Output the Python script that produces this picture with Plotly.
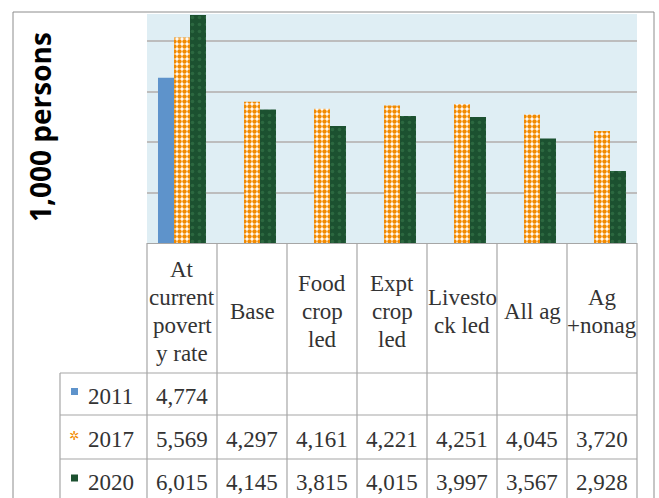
import plotly.graph_objects as go

# ---------------- data ----------------
categories = ["At current poverty rate", "Base", "Food crop led", "Expt crop led",
              "Livestock led", "All ag", "Ag +nonag"]
header_lines = [["At", "current", "povert", "y rate"], ["Base"], ["Food", "crop", "led"],
                ["Expt", "crop", "led"], ["Livesto", "ck led"], ["All ag"], ["Ag", "+nonag"]]
years = ["2011", "2017", "2020"]
v2011 = [4774, None, None, None, None, None, None]
v2017 = [5569, 4297, 4161, 4221, 4251, 4045, 3720]
v2020 = [6015, 4145, 3815, 4015, 3997, 3567, 2928]
series = [v2011, v2017, v2020]
y_title = "1,000 persons"

# ---------------- layout geometry (pixels) ----------------
W, H = 659, 498
L, R, T, B = 147, 637, 14, 243
def px(x):
    return (x - L) / (R - L)
def py(y):
    return (B - y) / (B - T)

C_BLUE = "#5E93CB"
C_ORANGE = "#F28A00"
C_GREEN = "#1C5130"
GRID = "#BDBDBD"
LINE = "#A6A6A6"
TXT = "#333333"
SERIF = "Liberation Serif, Times New Roman, serif"

idx = list(range(len(categories)))

fig = go.Figure()
fig.add_trace(go.Bar(x=idx, y=v2011, name=years[0], marker=dict(color=C_BLUE, line=dict(width=0))))
fig.add_trace(go.Bar(x=idx, y=v2017, name=years[1],
                     marker=dict(color="white", line=dict(width=0),
                                 pattern=dict(shape=".", fgcolor=C_ORANGE, bgcolor="white",
                                              size=5, solidity=0.62, fillmode="replace"))))
fig.add_trace(go.Bar(x=idx, y=v2020, name=years[2],
                     marker=dict(color=C_GREEN, line=dict(width=0),
                                 pattern=dict(shape=".", fgcolor="#2C6840", bgcolor=C_GREEN,
                                              size=7, solidity=0.2, fillmode="replace"))))

shapes = []
annotations = []

# outer chart border
shapes.append(dict(type="rect", xref="paper", yref="paper", x0=px(13), x1=px(654),
                   y0=py(12), y1=py(520), line=dict(color="#8C8C8C", width=1)))

# table geometry
header_bot = 373
row_tops = [373, 415, 459]
row_bots = [415, 459, 502]
left_col = 60

# vertical lines of table (category borders)
for i in range(len(categories) + 1):
    if i == 0 or i == len(categories):
        shapes.append(dict(type="line", xref="x domain", yref="paper", x0=i / len(categories),
                           x1=i / len(categories), y0=py(B), y1=py(row_bots[-1]),
                           line=dict(color=LINE, width=1.2)))
    else:
        shapes.append(dict(type="line", xref="x", yref="paper", x0=i - 0.5, x1=i - 0.5,
                           y0=py(B), y1=py(row_bots[-1]), line=dict(color=LINE, width=1.2)))
# left column border
shapes.append(dict(type="line", xref="paper", yref="paper", x0=px(left_col), x1=px(left_col),
                   y0=py(header_bot), y1=py(row_bots[-1]), line=dict(color=LINE, width=1.2)))
# horizontal row lines
for yy in row_tops + [row_bots[-1]]:
    shapes.append(dict(type="line", xref="paper", yref="paper", x0=px(left_col), x1=1,
                       y0=py(yy), y1=py(yy), line=dict(color=LINE, width=1.2)))

# header text
pitch = 28
hc = 311
for i, lines in enumerate(header_lines):
    n = len(lines)
    for k, t in enumerate(lines):
        yy = hc + (k - (n - 1) / 2) * pitch
        annotations.append(dict(x=i, y=py(yy), xref="x", yref="paper", text=t, showarrow=False,
                                xanchor="center", yanchor="middle",
                                font=dict(family=SERIF, size=23, color=TXT)))

# row values and legend keys
key_colors = [C_BLUE, C_ORANGE, C_GREEN]
for r, (yr, vals) in enumerate(zip(years, series)):
    yc = (row_tops[r] + row_bots[r]) / 2 + 2
    annotations.append(dict(x=px(86), y=py(yc), xref="paper", yref="paper", text=yr,
                            showarrow=False, xanchor="left", yanchor="middle",
                            font=dict(family=SERIF, size=23, color=TXT)))
    if r == 1:
        annotations.append(dict(x=px(74), y=py(yc - 3), xref="paper", yref="paper", text="✲",
                                showarrow=False, xanchor="center", yanchor="middle",
                                font=dict(family="DejaVu Sans", size=12, color=key_colors[r])))
    else:
        shapes.append(dict(type="rect", xref="paper", yref="paper", x0=px(71), x1=px(78),
                           y0=py(yc - 8), y1=py(yc - 1), fillcolor=key_colors[r],
                           line=dict(width=0)))
    for i, v in enumerate(vals):
        if v is None:
            continue
        annotations.append(dict(x=i, y=py(yc), xref="x", yref="paper", text=f"{v:,}",
                                showarrow=False, xanchor="center", yanchor="middle",
                                font=dict(family=SERIF, size=23, color=TXT)))

# y-axis title
annotations.append(dict(x=px(40), y=py(127), xref="paper", yref="paper", text=f"<b>{y_title}</b>",
                        showarrow=False, textangle=-90, xanchor="center", yanchor="middle",
                        font=dict(family="Open Sans, sans-serif", size=28, color="#000000")))

fig.update_layout(
    width=W, height=H,
    margin=dict(l=L, r=W - R, t=T, b=H - B, pad=0),
    paper_bgcolor="white", plot_bgcolor="#DFEEF4",
    barmode="group", bargap=0.314, bargroupgap=0,
    showlegend=False,
    shapes=shapes, annotations=annotations,
    xaxis=dict(type="linear", range=[-0.5, len(categories) - 0.5], showticklabels=False,
               showgrid=False, zeroline=False, showline=True, linecolor=LINE, linewidth=1.2,
               ticks=""),
    yaxis=dict(range=[1500, 6035], tick0=1500, dtick=1000, showticklabels=False,
               showgrid=True, gridcolor=GRID, gridwidth=1.5, zeroline=False, showline=False,
               ticks=""),
)

fig.write_html("out.html", config={"displayModeBar": False},
               post_script="document.body.style.margin='0';document.body.style.overflow='hidden';")
